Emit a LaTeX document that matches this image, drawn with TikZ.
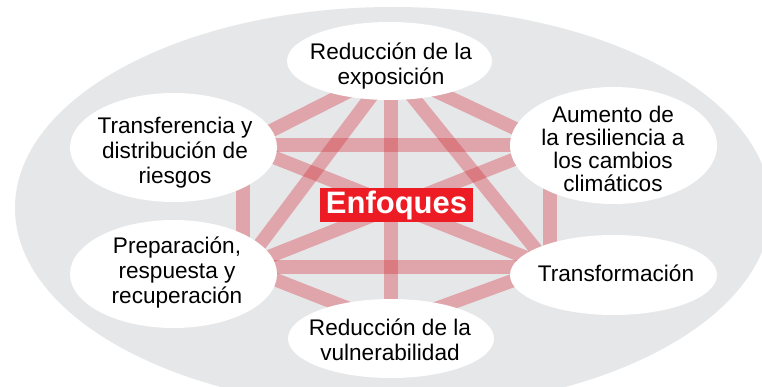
\documentclass[tikz,border=0pt]{standalone}
\usepackage{fontspec}
\setmainfont{Liberation Sans}
\usetikzlibrary{shapes.geometric}
\definecolor{bggrey}{RGB}{230,231,233}
\definecolor{linkred}{RGB}{210,40,50}
\definecolor{boxred}{RGB}{237,28,36}
\begin{document}
\begin{tikzpicture}[x=1pt,y=-1pt,
  bubble/.style={ellipse, fill=white, inner sep=0pt},
  btext/.style={align=center, font=\fontsize{22.6}{25}\selectfont, inner sep=0pt, text=black},
  link/.style={line width=13.5pt, draw=linkred, draw opacity=0.34},
]
\useasboundingbox (0,0) rectangle (762,387);
\clip (0,0) rectangle (762,387);
\fill[white] (0,0) rectangle (762,387);
% outer grey ellipse
\fill[bggrey] (393,208) ellipse [x radius=378pt, y radius=201pt];

% hexagon vertices
\coordinate (vT)  at (391,70);
\coordinate (vB)  at (391,325);
\coordinate (vUL) at (243,145);
\coordinate (vUR) at (550,145);
\coordinate (vLL) at (243,267);
\coordinate (vLR) at (550,267);

% connectors
\draw[link] (vT) -- (vUL);
\draw[link] (vT) -- (vUR);
\draw[link] (vT) -- (vLL);
\draw[link] (vT) -- (vLR);
\draw[link] (vT) -- (vB);
\draw[link] (vUL) -- (vUR);
\draw[link] (vLL) -- (vLR);
\draw[link] (vUL) -- (vLL);
\draw[link] (vUR) -- (vLR);
\draw[link] (vUL) -- (vLR);
\draw[link] (vUR) -- (vLL);
\draw[link] (vLL) -- (vB);
\draw[link] (vLR) -- (vB);

% bubbles
\node[bubble, minimum width=205pt, minimum height=78pt]  (top) at (389.5,61) {};
\node[bubble, minimum width=207pt, minimum height=109pt] (tra) at (173.5,147.5) {};
\node[bubble, minimum width=207pt, minimum height=117pt] (aum) at (613.5,145.5) {};
\node[bubble, minimum width=207pt, minimum height=108pt] (pre) at (173.5,274) {};
\node[bubble, minimum width=207pt, minimum height=80pt]  (trf) at (613.5,275) {};
\node[bubble, minimum width=206pt, minimum height=79pt]  (vul) at (391,338.5) {};

% texts
\node[btext] (topT) at (391,66) {Reducción de la\\exposición};
\node[btext] (traT) at (175,153) {Transferencia y\\distribución de\\riesgos};
\node[btext, font=\fontsize{22.6}{22.8}\selectfont] (aumT) at (613,149) {Aumento de\\la resiliencia a\\los cambios\\climáticos};
\node[btext] (preT) at (177,273) {Preparación,\\respuesta y\\recuperación};
\node[btext] (trfT) at (616,273) {Transformación};
\node[btext] (vulT) at (390,340) {Reducción de la\\vulnerabilidad};

% central label
\node[fill=boxred, minimum width=153pt, minimum height=34pt, inner sep=0pt,
      text=white, font=\fontsize{31}{36}\selectfont\bfseries] (enf) at (396.5,205) {Enfoques};
\end{tikzpicture}
\end{document}
